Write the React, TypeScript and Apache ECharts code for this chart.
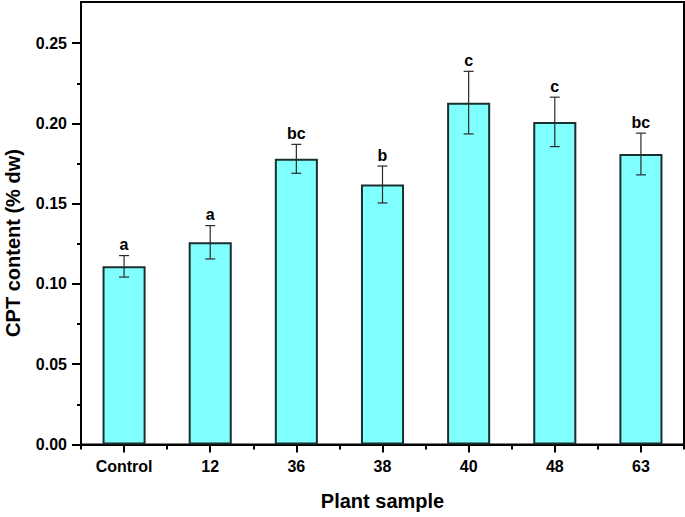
import React, { useEffect, useRef } from "react";
import * as echarts from "echarts";

const categories = ["Control", "12", "36", "38", "40", "48", "63"];
const values = [0.111, 0.126, 0.178, 0.162, 0.213, 0.201, 0.181];
const errors = [0.0067, 0.0104, 0.009, 0.0115, 0.0195, 0.0154, 0.013];
const letters = ["a", "a", "bc", "b", "c", "c", "bc"];
const majorTicks = [0, 0.05, 0.1, 0.15, 0.2, 0.25];
const minorTicks = [0.025, 0.075, 0.125, 0.175, 0.225];

const FONT = "'Liberation Sans', Arial, Helvetica, sans-serif";

export default function App() {
  const ref = useRef<HTMLDivElement>(null);
  useEffect(() => {
    if (!ref.current) return;
    const chart = echarts.init(ref.current, null, { renderer: "svg" });
    const yMax = 0.2757;
    chart.setOption({
      animation: false,
      backgroundColor: "#ffffff",
      grid: {
        left: 81,
        right: 1,
        top: 2,
        bottom: 72.5,
        show: true,
        borderColor: "#000",
        borderWidth: 2,
        backgroundColor: "transparent",
      },
      graphic: [
        {
          type: "text",
          x: 12.5,
          y: 243,
          rotation: Math.PI / 2,
          style: {
            text: "CPT content (% dw)",
            font: `bold 20px ${FONT}`,
            fill: "#000",
            align: "center",
            verticalAlign: "middle",
          },
        },
      ],
      xAxis: [
        {
          type: "category",
          data: categories,
          position: "bottom",
          axisLine: { show: true, lineStyle: { color: "#000", width: 2 } },
          axisTick: {
            show: true,
            alignWithLabel: true,
            length: 8,
            lineStyle: { color: "#000", width: 2 },
          },
          axisLabel: {
            color: "#000",
            fontWeight: "bold",
            fontSize: 16,
            fontFamily: FONT,
            margin: 14,
          },
          name: "Plant sample",
          nameLocation: "middle",
          nameGap: 46,
          nameTextStyle: {
            color: "#000",
            fontWeight: "bold",
            fontSize: 20,
            fontFamily: FONT,
          },
          splitLine: { show: false },
        },
        {
          type: "category",
          data: categories,
          position: "bottom",
          offset: 0,
          axisLine: { show: false },
          axisTick: {
            show: true,
            alignWithLabel: false,
            length: 5,
            lineStyle: { color: "#000", width: 2 },
          },
          axisLabel: { show: false },
          splitLine: { show: false },
        },
      ],
      yAxis: [
        {
          type: "value",
          min: 0,
          max: yMax,
          interval: 0.05,
          position: "left",
          axisLine: { show: true, lineStyle: { color: "#000", width: 2 } },
          axisTick: {
            show: true,
            length: 9,
            customValues: majorTicks,
            lineStyle: { color: "#000", width: 2 },
          },
          axisLabel: {
            color: "#000",
            fontWeight: "bold",
            fontSize: 16,
            fontFamily: FONT,
            margin: 14,
            customValues: majorTicks,
            formatter: (v: number) => v.toFixed(2),
          },
          splitLine: { show: false },
        },
        {
          type: "value",
          min: 0,
          max: yMax,
          position: "left",
          offset: 0,
          axisLine: { show: false },
          axisTick: {
            show: true,
            length: 4,
            customValues: minorTicks,
            lineStyle: { color: "#000", width: 2 },
          },
          axisLabel: { show: false, customValues: minorTicks },
          splitLine: { show: false },
        },
      ],
      series: [
        {
          type: "bar",
          xAxisIndex: 0,
          yAxisIndex: 0,
          data: values,
          barWidth: "50%",
          itemStyle: {
            color: "#80FFFF",
            borderColor: "#1c2e2e",
            borderWidth: 2,
          },
          z: 2,
        },
        {
          type: "custom",
          xAxisIndex: 0,
          yAxisIndex: 0,
          data: values.map((v, i) => [i, v, errors[i], letters[i]]),
          z: 5,
          renderItem: (params: any, api: any) => {
            const i = api.value(0);
            const v = api.value(1);
            const e = api.value(2);
            const idx = params.dataIndex;
            const top = api.coord([i, v + e]);
            const bot = api.coord([i, v - e]);
            const hw = 5;
            const stroke = { stroke: "#2a2a2a", lineWidth: 1.2 };
            return {
              type: "group",
              children: [
                {
                  type: "line",
                  shape: { x1: top[0], y1: top[1], x2: bot[0], y2: bot[1] },
                  style: stroke,
                },
                {
                  type: "line",
                  shape: { x1: top[0] - hw, y1: top[1], x2: top[0] + hw, y2: top[1] },
                  style: stroke,
                },
                {
                  type: "line",
                  shape: { x1: bot[0] - hw, y1: bot[1], x2: bot[0] + hw, y2: bot[1] },
                  style: stroke,
                },
                {
                  type: "text",
                  x: top[0],
                  y: top[1] - 3,
                  style: {
                    text: letters[idx],
                    font: `bold 16px ${FONT}`,
                    fill: "#000",
                    align: "center",
                    verticalAlign: "bottom",
                  },
                },
              ],
            };
          },
        },
      ],
    });
    return () => chart.dispose();
  }, []);
  return <div ref={ref} style={{ width: 685, height: 517, position: "absolute", left: 0, top: 0 }} />;
}
